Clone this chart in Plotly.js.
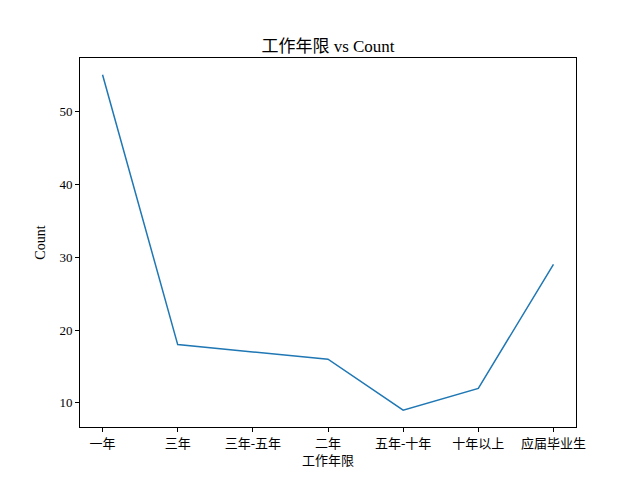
<!DOCTYPE html>
<html>
<head>
<meta charset="utf-8">
<script src="https://cdn.plot.ly/plotly-3.0.1.min.js"></script>
<style>html,body{margin:0;padding:0;background:#fff;}#chart{width:640px;height:480px;}</style>
</head>
<body>
<div id="chart"></div>
<script>
const categories = ["一年", "三年", "三年-五年", "二年", "五年-十年", "十年以上", "应届毕业生"];
const counts = [55, 18, 17, 16, 9, 12, 29];
const yTickVals = [10, 20, 30, 40, 50];

const FONT = '"Liberation Serif", "DejaVu Serif", "Noto Sans CJK SC", serif';

const trace = {
  x: categories,
  y: counts,
  type: 'scatter',
  mode: 'lines',
  line: {color: '#1f77b4', width: 1.5},
  hoverinfo: 'skip'
};

const layout = {
  width: 640, height: 480,
  margin: {l: 80, r: 64, t: 58, b: 53},
  paper_bgcolor: '#fff', plot_bgcolor: '#fff',
  font: {family: FONT, color: '#000', size: 13},
  showlegend: false,
  title: {
    text: '工作年限 vs Count',
    font: {family: FONT, size: 17, color: '#000'},
    x: 0.5, xref: 'paper', xanchor: 'center',
    y: 1, yref: 'paper', yanchor: 'bottom',
    pad: {b: 6}
  },
  xaxis: {
    type: 'category',
    range: [-0.3, 6.3],
    showgrid: false, zeroline: false,
    showline: true, linecolor: '#000', linewidth: 1, mirror: true,
    ticks: 'outside', ticklen: 4, tickwidth: 1, tickcolor: '#000',
    tickfont: {family: FONT, size: 13, color: '#000'},
    title: {text: '工作年限', font: {family: FONT, size: 13, color: '#000'}, standoff: 6}
  },
  yaxis: {
    range: [6.7, 57.3],
    tickvals: yTickVals,
    showgrid: false, zeroline: false,
    showline: true, linecolor: '#000', linewidth: 1, mirror: true,
    ticks: 'outside', ticklen: 4, tickwidth: 1, tickcolor: '#000',
    tickfont: {family: FONT, size: 13, color: '#000'},
    title: {text: 'Count', font: {family: FONT, size: 14, color: '#000'}, standoff: 10}
  }
};

Plotly.newPlot('chart', [trace], layout, {staticPlot: true, displayModeBar: false});
</script>
</body>
</html>
